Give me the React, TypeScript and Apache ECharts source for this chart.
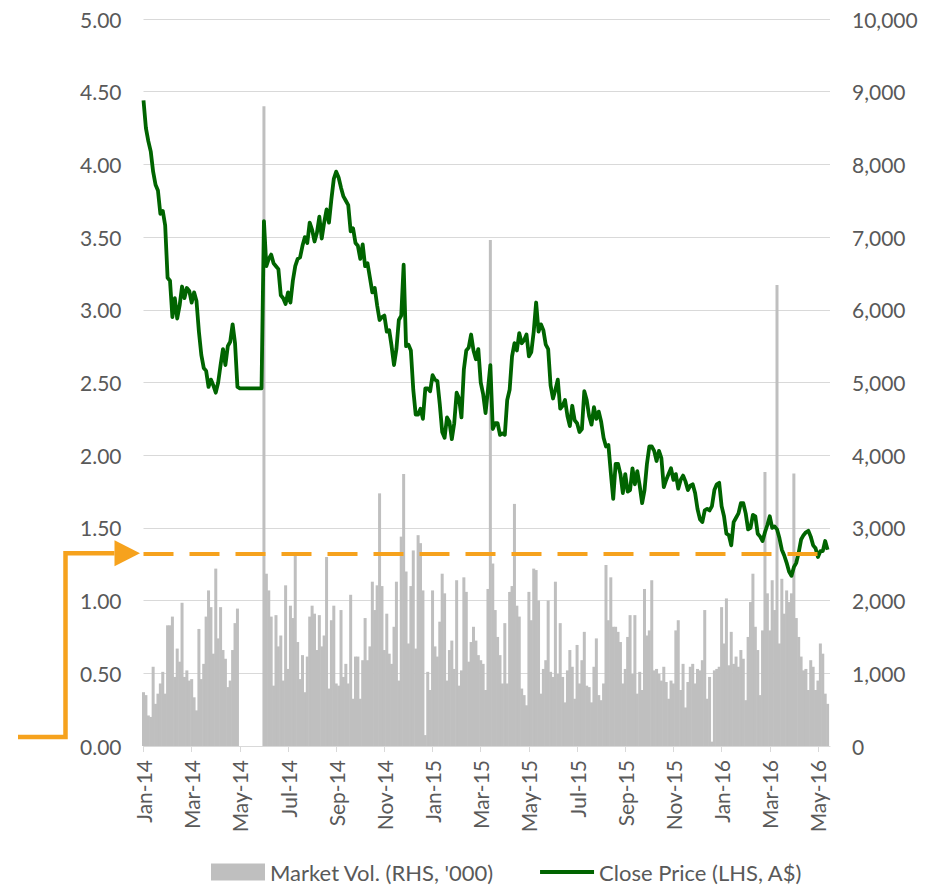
import React, { useEffect, useRef } from 'react';
import * as echarts from 'echarts';

// Tick labels at every second month start (x axis is in month units, Jan-14 = 0)
const tickLabels = [
  'Jan-14', 'Mar-14', 'May-14', 'Jul-14', 'Sep-14', 'Nov-14',
  'Jan-15', 'Mar-15', 'May-15', 'Jul-15', 'Sep-15', 'Nov-15',
  'Jan-16', 'Mar-16', 'May-16',
];

// Samples taken every 1/10 month (about two trading days), starting Jan-14
const SAMPLES_PER_MONTH = 10;
const AXIS_MONTHS = 28.5;

// Close price (LHS, A$)
const closePrice = [
  4.44, 4.25, 4.16, 4.09, 3.95, 3.86, 3.82, 3.66, 3.68, 3.58,
  3.22, 3.20, 2.95, 3.08, 2.94, 3.03, 3.16, 3.08, 3.15, 3.13,
  3.05, 3.12, 3.06, 2.85, 2.69, 2.60, 2.58, 2.47, 2.52, 2.48,
  2.43, 2.50, 2.62, 2.73, 2.62, 2.75, 2.78, 2.90, 2.77, 2.47,
  2.46, 2.46, 2.46, 2.46, 2.46, 2.46, 2.46, 2.46, 2.46, 2.46,
  3.61, 3.30, 3.35, 3.38, 3.32, 3.30, 3.28, 3.10, 3.08, 3.04,
  3.12, 3.05, 3.20, 3.30, 3.35, 3.36, 3.44, 3.50, 3.46, 3.60,
  3.55, 3.47, 3.53, 3.64, 3.49, 3.60, 3.69, 3.60, 3.76, 3.90,
  3.95, 3.91, 3.84, 3.78, 3.75, 3.72, 3.54, 3.56, 3.46, 3.44,
  3.35, 3.45, 3.30, 3.32, 3.22, 3.12, 3.15, 3.03, 2.93, 2.95,
  2.96, 2.85, 2.86, 2.75, 2.62, 2.73, 2.93, 2.96, 3.31, 2.75,
  2.76, 2.72, 2.45, 2.28, 2.28, 2.32, 2.25, 2.46, 2.46, 2.44,
  2.55, 2.52, 2.51, 2.35, 2.16, 2.12, 2.26, 2.23, 2.11, 2.22,
  2.43, 2.39, 2.26, 2.59, 2.72, 2.74, 2.83, 2.72, 2.66, 2.73,
  2.50, 2.42, 2.29, 2.45, 2.62, 2.18, 2.22, 2.22, 2.14, 2.15,
  2.14, 2.38, 2.45, 2.68, 2.77, 2.72, 2.84, 2.77, 2.79, 2.83,
  2.68, 2.71, 2.85, 3.05, 2.85, 2.90, 2.86, 2.76, 2.73, 2.48,
  2.39, 2.45, 2.52, 2.32, 2.34, 2.38, 2.27, 2.20, 2.34, 2.24,
  2.22, 2.16, 2.18, 2.44, 2.38, 2.27, 2.21, 2.33, 2.25, 2.30,
  2.23, 2.12, 2.06, 2.07, 1.88, 1.70, 1.94, 1.94, 1.87, 1.74,
  1.87, 1.75, 1.76, 1.91, 1.80, 1.89, 1.79, 1.67, 1.76, 1.94,
  2.06, 2.06, 2.03, 1.96, 2.03, 1.98, 1.78, 1.83, 1.87, 1.91,
  1.83, 1.87, 1.77, 1.83, 1.86, 1.82, 1.76, 1.79, 1.80, 1.74,
  1.63, 1.56, 1.54, 1.62, 1.63, 1.62, 1.65, 1.76, 1.80, 1.81,
  1.65, 1.58, 1.46, 1.45, 1.38, 1.54, 1.57, 1.60, 1.67, 1.67,
  1.60, 1.49, 1.50, 1.59, 1.58, 1.46, 1.44, 1.41, 1.47, 1.52,
  1.58, 1.50, 1.51, 1.49, 1.43, 1.35, 1.31, 1.26, 1.20, 1.17,
  1.23, 1.26, 1.33, 1.42, 1.45, 1.47, 1.48, 1.44, 1.38, 1.36,
  1.30, 1.34, 1.34, 1.41, 1.35,
];

// Market volume (RHS, '000)
const marketVol = [
  740, 700, 420, 400, 1090, 580, 720, 860, 1020, 720,
  1660, 1660, 1780, 950, 1340, 1160, 1970, 950, 1040, 900,
  920, 670, 490, 1610, 920, 1130, 1780, 2140, 1910, 1270,
  2440, 1480, 1910, 1320, 1200, 810, 900, 1320, 1690, 1890,
  0, 0, 0, 0, 0, 0, 0, 0, 0, 0,
  8800, 2370, 2140, 1780, 830, 1800, 1370, 1520, 900, 2210,
  1060, 1930, 1760, 2620, 1430, 920, 1250, 740, 1230, 1780,
  1930, 1820, 1320, 1800, 1370, 1520, 2600, 790, 1730, 1930,
  860, 830, 1870, 950, 1130, 860, 2080, 650, 1230, 1230,
  650, 1180, 1760, 1180, 1370, 2260, 1870, 2210, 3475, 2200,
  1320, 1820, 1270, 1130, 1640, 2260, 900, 2880, 3740, 2400,
  1410, 2200, 2690, 1340, 2900, 2790, 2140, 150, 1020, 770,
  2140, 1370, 1230, 1710, 2370, 2100, 900, 1320, 1450, 1060,
  2280, 830, 1040, 2320, 2120, 1160, 1430, 1640, 1450, 1250,
  1180, 1130, 770, 2160, 6960, 2510, 1870, 1500, 1250, 860,
  1690, 860, 2120, 2200, 3330, 1930, 1780, 790, 700, 560,
  2120, 1730, 2440, 2420, 2000, 720, 1060, 1180, 2000, 1020,
  950, 2260, 990, 1690, 950, 600, 1040, 1320, 1090, 650,
  1390, 860, 1180, 1570, 830, 810, 600, 1090, 1480, 700,
  630, 860, 2490, 1730, 2320, 1640, 1640, 1570, 1430, 860,
  1060, 1500, 1800, 990, 1800, 720, 1020, 770, 2160, 1520,
  1590, 2280, 1040, 1060, 990, 900, 1090, 880, 650, 900,
  860, 1590, 1730, 770, 1130, 530, 880, 1090, 1130, 860,
  1060, 1040, 1180, 1870, 650, 950, 60, 1040, 1060, 1090,
  1910, 1410, 2030, 1110, 1570, 1130, 1230, 1090, 1320, 1200,
  630, 1500, 1980, 2370, 1640, 1320, 700, 1590, 3770, 2100,
  1590, 2280, 1870, 6340, 1410, 2300, 1820, 2140, 1980, 2100,
  3750, 1760, 1500, 1230, 1040, 1060, 770, 1180, 1090, 770,
  900, 1410, 1270, 720, 580,
];

// Reference price level marked by the dashed line (LHS, A$)
const refPrice = 1.325;

const VOL_NAME = "Market Vol. (RHS, '000)";
const PRICE_NAME = 'Close Price (LHS, A$)';

const FONT = 'Lato';
const TEXT = '#595959';
const GRID = '#d9d9d9';
const BAR = '#bfbfbf';
const GREEN = '#006400';
const ORANGE = '#F6A21D';

export default function App() {
  const ref = useRef<HTMLDivElement>(null);

  useEffect(() => {
    document.body.style.margin = '0';
    const chart = echarts.init(ref.current as HTMLDivElement, null, { renderer: 'svg' });

    const priceData = closePrice.map((v, i) => [i / SAMPLES_PER_MONTH, v]);
    const volData = marketVol.map((v, i) => [i / SAMPLES_PER_MONTH, v]);
    const tickVals = tickLabels.map((_, k) => k * 2);

    chart.setOption({
      animation: false,
      textStyle: { fontFamily: FONT },
      grid: { left: 143.5, right: 102, top: 19, bottom: 139, containLabel: false },
      legend: {
        left: 211,
        top: 861,
        padding: 0,
        itemWidth: 54,
        itemHeight: 17,
        itemGap: 46,
        textStyle: { color: TEXT, fontSize: 22, fontFamily: FONT },
        data: [
          { name: VOL_NAME, icon: 'rect' },
          { name: PRICE_NAME, icon: 'path://M0,0 L52,0 L52,3.8 L0,3.8 Z' },
        ],
      },
      xAxis: {
        type: 'value',
        min: 0,
        max: AXIS_MONTHS,
        axisLine: { show: true, lineStyle: { color: GRID, width: 1 } },
        axisTick: { show: true, customValues: tickVals, length: 6, lineStyle: { color: GRID } },
        axisLabel: {
          customValues: tickVals,
          rotate: 90,
          margin: 14,
          color: TEXT,
          fontSize: 21,
          fontFamily: FONT,
          formatter: (v: number) => tickLabels[Math.round(v / 2)] ?? '',
        },
        splitLine: { show: false },
      },
      yAxis: [
        {
          type: 'value',
          min: 0,
          max: 5,
          interval: 0.5,
          axisLine: { show: false },
          axisTick: { show: false },
          axisLabel: {
            margin: 22,
            color: TEXT,
            fontSize: 21,
            fontFamily: FONT,
            formatter: (v: number) => v.toFixed(2),
          },
          splitLine: { show: true, lineStyle: { color: GRID, width: 1 } },
        },
        {
          type: 'value',
          min: 0,
          max: 10000,
          interval: 1000,
          position: 'right',
          axisLine: { show: false },
          axisTick: { show: false },
          axisLabel: {
            margin: 22,
            color: TEXT,
            fontSize: 21,
            fontFamily: FONT,
            formatter: (v: number) => v.toLocaleString('en-US'),
          },
          splitLine: { show: false },
        },
      ],
      series: [
        {
          name: VOL_NAME,
          type: 'bar',
          yAxisIndex: 1,
          data: volData,
          barWidth: 3,
          itemStyle: { color: BAR },
          z: 2,
        },
        {
          name: PRICE_NAME,
          type: 'line',
          yAxisIndex: 0,
          data: priceData,
          symbol: 'none',
          lineStyle: { color: GREEN, width: 3.8, join: 'round' },
          itemStyle: { color: GREEN },
          z: 3,
          markLine: {
            silent: true,
            symbol: ['none', 'none'],
            label: { show: false },
            lineStyle: { color: ORANGE, width: 4, type: [30, 16], cap: 'butt' },
            data: [{ yAxis: refPrice }],
          },
        },
      ],
    });

    const x0 = chart.convertToPixel({ xAxisIndex: 0 }, 0) as number;
    const yRef = chart.convertToPixel({ yAxisIndex: 0 }, refPrice) as number;
    const yBase = chart.convertToPixel({ yAxisIndex: 0 }, 0) as number;

    chart.setOption({
      graphic: [
        {
          type: 'polyline',
          shape: {
            points: [
              [x0 - 125.5, yBase - 9],
              [x0 - 78, yBase - 9],
              [x0 - 78, yRef],
              [x0 - 29, yRef],
            ],
          },
          style: { stroke: ORANGE, lineWidth: 4.5, fill: null, lineJoin: 'miter' },
          z: 10,
        },
        {
          type: 'polygon',
          shape: {
            points: [
              [x0 - 29, yRef - 13],
              [x0 - 3.5, yRef],
              [x0 - 29, yRef + 13],
            ],
          },
          style: { fill: ORANGE },
          z: 10,
        },
      ],
    });

    return () => chart.dispose();
  }, []);

  return <div ref={ref} style={{ width: 932, height: 885 }} />;
}
